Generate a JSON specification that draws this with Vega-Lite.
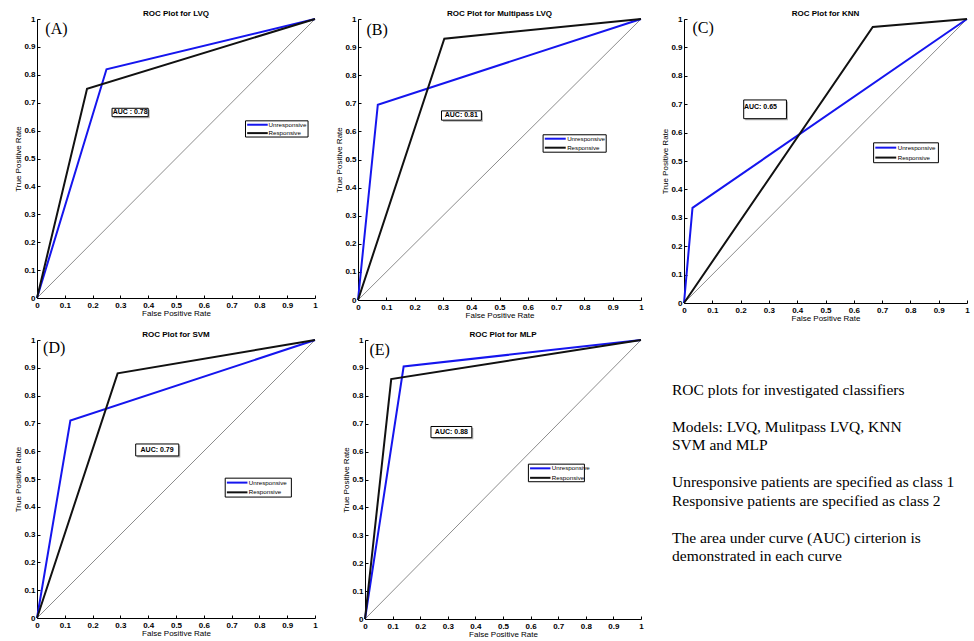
{
  "$schema": "https://vega.github.io/schema/vega-lite/v6.json",
  "background": "white",
  "padding": {"left": 14, "top": 10, "right": 0, "bottom": 0},
  "config": {
    "font": "Liberation Sans",
    "view": {"stroke": null},
    "axis": {"grid": false, "domainColor": "#000", "tickColor": "#000", "tickSize": -3, "labelFontSize": 8, "labelFontWeight": "bold", "labelColor": "#000", "labelFlush": false, "labelOverlap": false, "titleFontSize": 8, "titleFontWeight": "normal", "titleColor": "#000", "titlePadding": 1},
    "axisX": {"labelPadding": 6, "titlePadding": 0},
    "axisY": {"labelPadding": 5},
    "title": {"fontSize": 8, "fontWeight": "bold", "color": "#000", "offset": -3}
  },
  "datasets": {
    "roc": [
      {"model": "LVQ", "class": "Unresponsive", "fpr": 0, "tpr": 0},
      {"model": "LVQ", "class": "Unresponsive", "fpr": 0.25, "tpr": 0.82},
      {"model": "LVQ", "class": "Unresponsive", "fpr": 1, "tpr": 1},
      {"model": "LVQ", "class": "Responsive", "fpr": 0, "tpr": 0},
      {"model": "LVQ", "class": "Responsive", "fpr": 0.18, "tpr": 0.75},
      {"model": "LVQ", "class": "Responsive", "fpr": 1, "tpr": 1},
      {"model": "Multipass LVQ", "class": "Unresponsive", "fpr": 0, "tpr": 0},
      {"model": "Multipass LVQ", "class": "Unresponsive", "fpr": 0.07, "tpr": 0.695},
      {"model": "Multipass LVQ", "class": "Unresponsive", "fpr": 1, "tpr": 1},
      {"model": "Multipass LVQ", "class": "Responsive", "fpr": 0, "tpr": 0},
      {"model": "Multipass LVQ", "class": "Responsive", "fpr": 0.305, "tpr": 0.93},
      {"model": "Multipass LVQ", "class": "Responsive", "fpr": 1, "tpr": 1},
      {"model": "KNN", "class": "Unresponsive", "fpr": 0, "tpr": 0},
      {"model": "KNN", "class": "Unresponsive", "fpr": 0.03, "tpr": 0.335},
      {"model": "KNN", "class": "Unresponsive", "fpr": 1, "tpr": 1},
      {"model": "KNN", "class": "Responsive", "fpr": 0, "tpr": 0},
      {"model": "KNN", "class": "Responsive", "fpr": 0.667, "tpr": 0.972},
      {"model": "KNN", "class": "Responsive", "fpr": 1, "tpr": 1},
      {"model": "SVM", "class": "Unresponsive", "fpr": 0, "tpr": 0},
      {"model": "SVM", "class": "Unresponsive", "fpr": 0.12, "tpr": 0.71},
      {"model": "SVM", "class": "Unresponsive", "fpr": 1, "tpr": 1},
      {"model": "SVM", "class": "Responsive", "fpr": 0, "tpr": 0},
      {"model": "SVM", "class": "Responsive", "fpr": 0.29, "tpr": 0.88},
      {"model": "SVM", "class": "Responsive", "fpr": 1, "tpr": 1},
      {"model": "MLP", "class": "Unresponsive", "fpr": 0, "tpr": 0},
      {"model": "MLP", "class": "Unresponsive", "fpr": 0.14, "tpr": 0.905},
      {"model": "MLP", "class": "Unresponsive", "fpr": 1, "tpr": 1},
      {"model": "MLP", "class": "Responsive", "fpr": 0, "tpr": 0},
      {"model": "MLP", "class": "Responsive", "fpr": 0.095, "tpr": 0.86},
      {"model": "MLP", "class": "Responsive", "fpr": 1, "tpr": 1}
    ],
    "panels": [
      {"model": "LVQ", "letter": "(A)", "auc": "AUC : 0.78", "c1": "Unresponsive", "c2": "Responsive"},
      {"model": "Multipass LVQ", "letter": "(B)", "auc": "AUC: 0.81", "c1": "Unresponsive", "c2": "Responsive"},
      {"model": "KNN", "letter": "(C)", "auc": "AUC: 0.65", "c1": "Unresponsive", "c2": "Responsive"},
      {"model": "SVM", "letter": "(D)", "auc": "AUC: 0.79", "c1": "Unresponsive", "c2": "Responsive"},
      {"model": "MLP", "letter": "(E)", "auc": "AUC: 0.88", "c1": "Unresponsive", "c2": "Responsive"}
    ],
    "notes": [
      {"line": 0, "text": "ROC plots for investigated classifiers"},
      {"line": 2, "text": "Models: LVQ, Mulitpass LVQ, KNN\nSVM and MLP"},
      {"line": 5, "text": "Unresponsive patients are specified as class 1\nResponsive patients are specified as class 2"},
      {"line": 8, "text": "The area under curve (AUC) cirterion is\ndemonstrated in each curve"}
    ]
  },
  "resolve": {"scale": {"color": "independent"}},
  "spacing": 9,
  "vconcat": [
    {
      "bounds": "flush",
      "spacing": 43,
      "resolve": {"scale": {"color": "independent"}},
      "hconcat": [
        {
          "width": 278, "height": 279,
          "title": "ROC Plot for LVQ",
          "layer": [
            {"data": {"name": "panels"}, "transform": [{"filter": "datum.model === 'LVQ'"}],
             "mark": {"type": "rule", "color": "#8c8c8c", "strokeWidth": 1},
             "encoding": {
               "x": {"datum": 0, "type": "quantitative", "scale": {"domain": [0, 1], "nice": false}, "axis": {"title": "False Positive Rate", "values": [0, 0.1, 0.2, 0.3, 0.4, 0.5, 0.6, 0.7, 0.8, 0.9, 1], "tickCount": 11, "format": "~g"}},
               "y": {"datum": 0, "type": "quantitative", "scale": {"domain": [0, 1], "nice": false}, "axis": {"title": "True Positive Rate", "values": [0, 0.1, 0.2, 0.3, 0.4, 0.5, 0.6, 0.7, 0.8, 0.9, 1], "tickCount": 11, "format": "~g"}},
               "x2": {"datum": 1}, "y2": {"datum": 1}}},
            {"data": {"name": "roc"}, "transform": [{"filter": "datum.model === 'LVQ'"}],
             "mark": {"type": "line", "strokeWidth": 2},
             "encoding": {
               "x": {"field": "fpr", "type": "quantitative", "scale": {"domain": [0, 1], "nice": false}, "axis": {"title": "False Positive Rate", "values": [0, 0.1, 0.2, 0.3, 0.4, 0.5, 0.6, 0.7, 0.8, 0.9, 1], "tickCount": 11, "format": "~g"}},
               "y": {"field": "tpr", "type": "quantitative", "scale": {"domain": [0, 1], "nice": false}, "axis": {"title": "True Positive Rate", "values": [0, 0.1, 0.2, 0.3, 0.4, 0.5, 0.6, 0.7, 0.8, 0.9, 1], "tickCount": 11, "format": "~g"}},
               "color": {"field": "class", "type": "nominal", "scale": {"domain": ["Unresponsive", "Responsive"], "range": ["#1515ee", "#111111"]}, "legend": null}
             }},
            {"data": {"name": "panels"}, "transform": [{"filter": "datum.model === 'LVQ'"}],
             "mark": {"type": "rect", "fill": "#b0b0b0", "xOffset": 1.5, "x2Offset": 1.5, "yOffset": 1.5, "y2Offset": 1.5},
             "encoding": {"x": {"datum": 0.27}, "x2": {"datum": 0.40}, "y": {"datum": 0.65}, "y2": {"datum": 0.68}}},
            {"data": {"name": "panels"}, "transform": [{"filter": "datum.model === 'LVQ'"}],
             "mark": {"type": "rect", "fill": "#fff", "stroke": "#000", "strokeWidth": 1},
             "encoding": {"x": {"datum": 0.27}, "x2": {"datum": 0.40}, "y": {"datum": 0.65}, "y2": {"datum": 0.68}}},
            {"data": {"name": "panels"}, "transform": [{"filter": "datum.model === 'LVQ'"}],
             "mark": {"type": "text", "fontSize": 7, "fontWeight": "bold", "color": "#000", "align": "center", "baseline": "middle"},
             "encoding": {"x": {"datum": 0.335}, "y": {"datum": 0.665}, "text": {"field": "auc"}}},
            {"data": {"name": "panels"}, "transform": [{"filter": "datum.model === 'LVQ'"}],
             "mark": {"type": "text", "font": "Liberation Serif", "fontSize": 16, "color": "#000", "align": "left", "baseline": "middle"},
             "encoding": {"x": {"datum": 0.03}, "y": {"datum": 0.965}, "text": {"field": "letter"}}},
            {"data": {"name": "panels"}, "transform": [{"filter": "datum.model === 'LVQ'"}],
             "mark": {"type": "rect", "fill": "#fff", "stroke": "#000", "strokeWidth": 1},
             "encoding": {"x": {"datum": 0.75}, "x2": {"datum": 0.975}, "y": {"datum": 0.577}, "y2": {"datum": 0.635}}},
            {"data": {"name": "panels"}, "transform": [{"filter": "datum.model === 'LVQ'"}],
             "mark": {"type": "rule", "color": "#1515ee", "strokeWidth": 2},
             "encoding": {"x": {"datum": 0.756}, "x2": {"datum": 0.83}, "y": {"datum": 0.621}}},
            {"data": {"name": "panels"}, "transform": [{"filter": "datum.model === 'LVQ'"}],
             "mark": {"type": "rule", "color": "#111111", "strokeWidth": 2},
             "encoding": {"x": {"datum": 0.756}, "x2": {"datum": 0.83}, "y": {"datum": 0.591}}},
            {"data": {"name": "panels"}, "transform": [{"filter": "datum.model === 'LVQ'"}],
             "mark": {"type": "text", "fontSize": 6.2, "color": "#000", "align": "left", "baseline": "middle"},
             "encoding": {"x": {"datum": 0.833}, "y": {"datum": 0.621}, "text": {"field": "c1"}}},
            {"data": {"name": "panels"}, "transform": [{"filter": "datum.model === 'LVQ'"}],
             "mark": {"type": "text", "fontSize": 6.2, "color": "#000", "align": "left", "baseline": "middle"},
             "encoding": {"x": {"datum": 0.833}, "y": {"datum": 0.591}, "text": {"field": "c2"}}}
          ]
        },
        {
          "width": 283, "height": 281,
          "title": "ROC Plot for Multipass LVQ",
          "layer": [
            {"data": {"name": "panels"}, "transform": [{"filter": "datum.model === 'Multipass LVQ'"}],
             "mark": {"type": "rule", "color": "#8c8c8c", "strokeWidth": 1},
             "encoding": {
               "x": {"datum": 0, "type": "quantitative", "scale": {"domain": [0, 1], "nice": false}, "axis": {"title": "False Positive Rate", "values": [0, 0.1, 0.2, 0.3, 0.4, 0.5, 0.6, 0.7, 0.8, 0.9, 1], "tickCount": 11, "format": "~g"}},
               "y": {"datum": 0, "type": "quantitative", "scale": {"domain": [0, 1], "nice": false}, "axis": {"title": "True Positive Rate", "values": [0, 0.1, 0.2, 0.3, 0.4, 0.5, 0.6, 0.7, 0.8, 0.9, 1], "tickCount": 11, "format": "~g"}},
               "x2": {"datum": 1}, "y2": {"datum": 1}}},
            {"data": {"name": "roc"}, "transform": [{"filter": "datum.model === 'Multipass LVQ'"}],
             "mark": {"type": "line", "strokeWidth": 2},
             "encoding": {
               "x": {"field": "fpr", "type": "quantitative", "scale": {"domain": [0, 1], "nice": false}, "axis": {"title": "False Positive Rate", "values": [0, 0.1, 0.2, 0.3, 0.4, 0.5, 0.6, 0.7, 0.8, 0.9, 1], "tickCount": 11, "format": "~g"}},
               "y": {"field": "tpr", "type": "quantitative", "scale": {"domain": [0, 1], "nice": false}, "axis": {"title": "True Positive Rate", "values": [0, 0.1, 0.2, 0.3, 0.4, 0.5, 0.6, 0.7, 0.8, 0.9, 1], "tickCount": 11, "format": "~g"}},
               "color": {"field": "class", "type": "nominal", "scale": {"domain": ["Unresponsive", "Responsive"], "range": ["#1515ee", "#111111"]}, "legend": null}
             }},
            {"data": {"name": "panels"}, "transform": [{"filter": "datum.model === 'Multipass LVQ'"}],
             "mark": {"type": "rect", "fill": "#b0b0b0", "xOffset": 1.5, "x2Offset": 1.5, "yOffset": 1.5, "y2Offset": 1.5},
             "encoding": {"x": {"datum": 0.295}, "x2": {"datum": 0.436}, "y": {"datum": 0.64}, "y2": {"datum": 0.673}}},
            {"data": {"name": "panels"}, "transform": [{"filter": "datum.model === 'Multipass LVQ'"}],
             "mark": {"type": "rect", "fill": "#fff", "stroke": "#000", "strokeWidth": 1},
             "encoding": {"x": {"datum": 0.295}, "x2": {"datum": 0.436}, "y": {"datum": 0.64}, "y2": {"datum": 0.673}}},
            {"data": {"name": "panels"}, "transform": [{"filter": "datum.model === 'Multipass LVQ'"}],
             "mark": {"type": "text", "fontSize": 7, "fontWeight": "bold", "color": "#000", "align": "center", "baseline": "middle"},
             "encoding": {"x": {"datum": 0.365}, "y": {"datum": 0.657}, "text": {"field": "auc"}}},
            {"data": {"name": "panels"}, "transform": [{"filter": "datum.model === 'Multipass LVQ'"}],
             "mark": {"type": "text", "font": "Liberation Serif", "fontSize": 16, "color": "#000", "align": "left", "baseline": "middle"},
             "encoding": {"x": {"datum": 0.03}, "y": {"datum": 0.96}, "text": {"field": "letter"}}},
            {"data": {"name": "panels"}, "transform": [{"filter": "datum.model === 'Multipass LVQ'"}],
             "mark": {"type": "rect", "fill": "#fff", "stroke": "#000", "strokeWidth": 1},
             "encoding": {"x": {"datum": 0.654}, "x2": {"datum": 0.877}, "y": {"datum": 0.526}, "y2": {"datum": 0.588}}},
            {"data": {"name": "panels"}, "transform": [{"filter": "datum.model === 'Multipass LVQ'"}],
             "mark": {"type": "rule", "color": "#1515ee", "strokeWidth": 2},
             "encoding": {"x": {"datum": 0.66}, "x2": {"datum": 0.734}, "y": {"datum": 0.574}}},
            {"data": {"name": "panels"}, "transform": [{"filter": "datum.model === 'Multipass LVQ'"}],
             "mark": {"type": "rule", "color": "#111111", "strokeWidth": 2},
             "encoding": {"x": {"datum": 0.66}, "x2": {"datum": 0.734}, "y": {"datum": 0.542}}},
            {"data": {"name": "panels"}, "transform": [{"filter": "datum.model === 'Multipass LVQ'"}],
             "mark": {"type": "text", "fontSize": 6.2, "color": "#000", "align": "left", "baseline": "middle"},
             "encoding": {"x": {"datum": 0.739}, "y": {"datum": 0.574}, "text": {"field": "c1"}}},
            {"data": {"name": "panels"}, "transform": [{"filter": "datum.model === 'Multipass LVQ'"}],
             "mark": {"type": "text", "fontSize": 6.2, "color": "#000", "align": "left", "baseline": "middle"},
             "encoding": {"x": {"datum": 0.739}, "y": {"datum": 0.542}, "text": {"field": "c2"}}}
          ]
        },
        {
          "width": 283, "height": 284,
          "title": "ROC Plot for KNN",
          "layer": [
            {"data": {"name": "panels"}, "transform": [{"filter": "datum.model === 'KNN'"}],
             "mark": {"type": "rule", "color": "#8c8c8c", "strokeWidth": 1},
             "encoding": {
               "x": {"datum": 0, "type": "quantitative", "scale": {"domain": [0, 1], "nice": false}, "axis": {"title": "False Positive Rate", "values": [0, 0.1, 0.2, 0.3, 0.4, 0.5, 0.6, 0.7, 0.8, 0.9, 1], "tickCount": 11, "format": "~g"}},
               "y": {"datum": 0, "type": "quantitative", "scale": {"domain": [0, 1], "nice": false}, "axis": {"title": "True Positive Rate", "values": [0, 0.1, 0.2, 0.3, 0.4, 0.5, 0.6, 0.7, 0.8, 0.9, 1], "tickCount": 11, "format": "~g"}},
               "x2": {"datum": 1}, "y2": {"datum": 1}}},
            {"data": {"name": "roc"}, "transform": [{"filter": "datum.model === 'KNN'"}],
             "mark": {"type": "line", "strokeWidth": 2},
             "encoding": {
               "x": {"field": "fpr", "type": "quantitative", "scale": {"domain": [0, 1], "nice": false}, "axis": {"title": "False Positive Rate", "values": [0, 0.1, 0.2, 0.3, 0.4, 0.5, 0.6, 0.7, 0.8, 0.9, 1], "tickCount": 11, "format": "~g"}},
               "y": {"field": "tpr", "type": "quantitative", "scale": {"domain": [0, 1], "nice": false}, "axis": {"title": "True Positive Rate", "values": [0, 0.1, 0.2, 0.3, 0.4, 0.5, 0.6, 0.7, 0.8, 0.9, 1], "tickCount": 11, "format": "~g"}},
               "color": {"field": "class", "type": "nominal", "scale": {"domain": ["Unresponsive", "Responsive"], "range": ["#1515ee", "#111111"]}, "legend": null}
             }},
            {"data": {"name": "panels"}, "transform": [{"filter": "datum.model === 'KNN'"}],
             "mark": {"type": "rect", "fill": "#b0b0b0", "xOffset": 1.5, "x2Offset": 1.5, "yOffset": 1.5, "y2Offset": 1.5},
             "encoding": {"x": {"datum": 0.211}, "x2": {"datum": 0.362}, "y": {"datum": 0.649}, "y2": {"datum": 0.715}}},
            {"data": {"name": "panels"}, "transform": [{"filter": "datum.model === 'KNN'"}],
             "mark": {"type": "rect", "fill": "#fff", "stroke": "#000", "strokeWidth": 1},
             "encoding": {"x": {"datum": 0.211}, "x2": {"datum": 0.362}, "y": {"datum": 0.649}, "y2": {"datum": 0.715}}},
            {"data": {"name": "panels"}, "transform": [{"filter": "datum.model === 'KNN'"}],
             "mark": {"type": "text", "fontSize": 7, "fontWeight": "bold", "color": "#000", "align": "center", "baseline": "middle"},
             "encoding": {"x": {"datum": 0.27}, "y": {"datum": 0.69}, "text": {"field": "auc"}}},
            {"data": {"name": "panels"}, "transform": [{"filter": "datum.model === 'KNN'"}],
             "mark": {"type": "text", "font": "Liberation Serif", "fontSize": 16, "color": "#000", "align": "left", "baseline": "middle"},
             "encoding": {"x": {"datum": 0.03}, "y": {"datum": 0.967}, "text": {"field": "letter"}}},
            {"data": {"name": "panels"}, "transform": [{"filter": "datum.model === 'KNN'"}],
             "mark": {"type": "rect", "fill": "#fff", "stroke": "#000", "strokeWidth": 1},
             "encoding": {"x": {"datum": 0.670}, "x2": {"datum": 0.899}, "y": {"datum": 0.494}, "y2": {"datum": 0.564}}},
            {"data": {"name": "panels"}, "transform": [{"filter": "datum.model === 'KNN'"}],
             "mark": {"type": "rule", "color": "#1515ee", "strokeWidth": 2},
             "encoding": {"x": {"datum": 0.676}, "x2": {"datum": 0.75}, "y": {"datum": 0.547}}},
            {"data": {"name": "panels"}, "transform": [{"filter": "datum.model === 'KNN'"}],
             "mark": {"type": "rule", "color": "#111111", "strokeWidth": 2},
             "encoding": {"x": {"datum": 0.676}, "x2": {"datum": 0.75}, "y": {"datum": 0.512}}},
            {"data": {"name": "panels"}, "transform": [{"filter": "datum.model === 'KNN'"}],
             "mark": {"type": "text", "fontSize": 6.2, "color": "#000", "align": "left", "baseline": "middle"},
             "encoding": {"x": {"datum": 0.755}, "y": {"datum": 0.547}, "text": {"field": "c1"}}},
            {"data": {"name": "panels"}, "transform": [{"filter": "datum.model === 'KNN'"}],
             "mark": {"type": "text", "fontSize": 6.2, "color": "#000", "align": "left", "baseline": "middle"},
             "encoding": {"x": {"datum": 0.755}, "y": {"datum": 0.512}, "text": {"field": "c2"}}}
          ]
        }
      ]
    },
    {
      "bounds": "flush",
      "spacing": 50,
      "resolve": {"scale": {"color": "independent"}},
      "hconcat": [
        {
          "width": 278, "height": 278,
          "title": "ROC Plot for SVM",
          "layer": [
            {"data": {"name": "panels"}, "transform": [{"filter": "datum.model === 'SVM'"}],
             "mark": {"type": "rule", "color": "#8c8c8c", "strokeWidth": 1},
             "encoding": {
               "x": {"datum": 0, "type": "quantitative", "scale": {"domain": [0, 1], "nice": false}, "axis": {"title": "False Positive Rate", "values": [0, 0.1, 0.2, 0.3, 0.4, 0.5, 0.6, 0.7, 0.8, 0.9, 1], "tickCount": 11, "format": "~g"}},
               "y": {"datum": 0, "type": "quantitative", "scale": {"domain": [0, 1], "nice": false}, "axis": {"title": "True Positive Rate", "values": [0, 0.1, 0.2, 0.3, 0.4, 0.5, 0.6, 0.7, 0.8, 0.9, 1], "tickCount": 11, "format": "~g"}},
               "x2": {"datum": 1}, "y2": {"datum": 1}}},
            {"data": {"name": "roc"}, "transform": [{"filter": "datum.model === 'SVM'"}],
             "mark": {"type": "line", "strokeWidth": 2},
             "encoding": {
               "x": {"field": "fpr", "type": "quantitative", "scale": {"domain": [0, 1], "nice": false}, "axis": {"title": "False Positive Rate", "values": [0, 0.1, 0.2, 0.3, 0.4, 0.5, 0.6, 0.7, 0.8, 0.9, 1], "tickCount": 11, "format": "~g"}},
               "y": {"field": "tpr", "type": "quantitative", "scale": {"domain": [0, 1], "nice": false}, "axis": {"title": "True Positive Rate", "values": [0, 0.1, 0.2, 0.3, 0.4, 0.5, 0.6, 0.7, 0.8, 0.9, 1], "tickCount": 11, "format": "~g"}},
               "color": {"field": "class", "type": "nominal", "scale": {"domain": ["Unresponsive", "Responsive"], "range": ["#1515ee", "#111111"]}, "legend": null}
             }},
            {"data": {"name": "panels"}, "transform": [{"filter": "datum.model === 'SVM'"}],
             "mark": {"type": "rect", "fill": "#b0b0b0", "xOffset": 1.5, "x2Offset": 1.5, "yOffset": 1.5, "y2Offset": 1.5},
             "encoding": {"x": {"datum": 0.355}, "x2": {"datum": 0.51}, "y": {"datum": 0.583}, "y2": {"datum": 0.626}}},
            {"data": {"name": "panels"}, "transform": [{"filter": "datum.model === 'SVM'"}],
             "mark": {"type": "rect", "fill": "#fff", "stroke": "#000", "strokeWidth": 1},
             "encoding": {"x": {"datum": 0.355}, "x2": {"datum": 0.51}, "y": {"datum": 0.583}, "y2": {"datum": 0.626}}},
            {"data": {"name": "panels"}, "transform": [{"filter": "datum.model === 'SVM'"}],
             "mark": {"type": "text", "fontSize": 7, "fontWeight": "bold", "color": "#000", "align": "center", "baseline": "middle"},
             "encoding": {"x": {"datum": 0.432}, "y": {"datum": 0.605}, "text": {"field": "auc"}}},
            {"data": {"name": "panels"}, "transform": [{"filter": "datum.model === 'SVM'"}],
             "mark": {"type": "text", "font": "Liberation Serif", "fontSize": 16, "color": "#000", "align": "left", "baseline": "middle"},
             "encoding": {"x": {"datum": 0.022}, "y": {"datum": 0.972}, "text": {"field": "letter"}}},
            {"data": {"name": "panels"}, "transform": [{"filter": "datum.model === 'SVM'"}],
             "mark": {"type": "rect", "fill": "#fff", "stroke": "#000", "strokeWidth": 1},
             "encoding": {"x": {"datum": 0.677}, "x2": {"datum": 0.915}, "y": {"datum": 0.435}, "y2": {"datum": 0.503}}},
            {"data": {"name": "panels"}, "transform": [{"filter": "datum.model === 'SVM'"}],
             "mark": {"type": "rule", "color": "#1515ee", "strokeWidth": 2},
             "encoding": {"x": {"datum": 0.683}, "x2": {"datum": 0.757}, "y": {"datum": 0.487}}},
            {"data": {"name": "panels"}, "transform": [{"filter": "datum.model === 'SVM'"}],
             "mark": {"type": "rule", "color": "#111111", "strokeWidth": 2},
             "encoding": {"x": {"datum": 0.683}, "x2": {"datum": 0.757}, "y": {"datum": 0.452}}},
            {"data": {"name": "panels"}, "transform": [{"filter": "datum.model === 'SVM'"}],
             "mark": {"type": "text", "fontSize": 6.2, "color": "#000", "align": "left", "baseline": "middle"},
             "encoding": {"x": {"datum": 0.762}, "y": {"datum": 0.487}, "text": {"field": "c1"}}},
            {"data": {"name": "panels"}, "transform": [{"filter": "datum.model === 'SVM'"}],
             "mark": {"type": "text", "fontSize": 6.2, "color": "#000", "align": "left", "baseline": "middle"},
             "encoding": {"x": {"datum": 0.762}, "y": {"datum": 0.452}, "text": {"field": "c2"}}}
          ]
        },
        {
          "width": 276, "height": 279,
          "title": "ROC Plot for MLP",
          "layer": [
            {"data": {"name": "panels"}, "transform": [{"filter": "datum.model === 'MLP'"}],
             "mark": {"type": "rule", "color": "#8c8c8c", "strokeWidth": 1},
             "encoding": {
               "x": {"datum": 0, "type": "quantitative", "scale": {"domain": [0, 1], "nice": false}, "axis": {"title": "False Positive Rate", "values": [0, 0.1, 0.2, 0.3, 0.4, 0.5, 0.6, 0.7, 0.8, 0.9, 1], "tickCount": 11, "format": "~g"}},
               "y": {"datum": 0, "type": "quantitative", "scale": {"domain": [0, 1], "nice": false}, "axis": {"title": "True Positive Rate", "values": [0, 0.1, 0.2, 0.3, 0.4, 0.5, 0.6, 0.7, 0.8, 0.9, 1], "tickCount": 11, "format": "~g"}},
               "x2": {"datum": 1}, "y2": {"datum": 1}}},
            {"data": {"name": "roc"}, "transform": [{"filter": "datum.model === 'MLP'"}],
             "mark": {"type": "line", "strokeWidth": 2},
             "encoding": {
               "x": {"field": "fpr", "type": "quantitative", "scale": {"domain": [0, 1], "nice": false}, "axis": {"title": "False Positive Rate", "values": [0, 0.1, 0.2, 0.3, 0.4, 0.5, 0.6, 0.7, 0.8, 0.9, 1], "tickCount": 11, "format": "~g"}},
               "y": {"field": "tpr", "type": "quantitative", "scale": {"domain": [0, 1], "nice": false}, "axis": {"title": "True Positive Rate", "values": [0, 0.1, 0.2, 0.3, 0.4, 0.5, 0.6, 0.7, 0.8, 0.9, 1], "tickCount": 11, "format": "~g"}},
               "color": {"field": "class", "type": "nominal", "scale": {"domain": ["Unresponsive", "Responsive"], "range": ["#1515ee", "#111111"]}, "legend": null}
             }},
            {"data": {"name": "panels"}, "transform": [{"filter": "datum.model === 'MLP'"}],
             "mark": {"type": "rect", "fill": "#b0b0b0", "xOffset": 1.5, "x2Offset": 1.5, "yOffset": 1.5, "y2Offset": 1.5},
             "encoding": {"x": {"datum": 0.239}, "x2": {"datum": 0.387}, "y": {"datum": 0.65}, "y2": {"datum": 0.69}}},
            {"data": {"name": "panels"}, "transform": [{"filter": "datum.model === 'MLP'"}],
             "mark": {"type": "rect", "fill": "#fff", "stroke": "#000", "strokeWidth": 1},
             "encoding": {"x": {"datum": 0.239}, "x2": {"datum": 0.387}, "y": {"datum": 0.65}, "y2": {"datum": 0.69}}},
            {"data": {"name": "panels"}, "transform": [{"filter": "datum.model === 'MLP'"}],
             "mark": {"type": "text", "fontSize": 7, "fontWeight": "bold", "color": "#000", "align": "center", "baseline": "middle"},
             "encoding": {"x": {"datum": 0.313}, "y": {"datum": 0.67}, "text": {"field": "auc"}}},
            {"data": {"name": "panels"}, "transform": [{"filter": "datum.model === 'MLP'"}],
             "mark": {"type": "text", "font": "Liberation Serif", "fontSize": 16, "color": "#000", "align": "left", "baseline": "middle"},
             "encoding": {"x": {"datum": 0.016}, "y": {"datum": 0.963}, "text": {"field": "letter"}}},
            {"data": {"name": "panels"}, "transform": [{"filter": "datum.model === 'MLP'"}],
             "mark": {"type": "rect", "fill": "#fff", "stroke": "#000", "strokeWidth": 1},
             "encoding": {"x": {"datum": 0.592}, "x2": {"datum": 0.795}, "y": {"datum": 0.492}, "y2": {"datum": 0.555}}},
            {"data": {"name": "panels"}, "transform": [{"filter": "datum.model === 'MLP'"}],
             "mark": {"type": "rule", "color": "#1515ee", "strokeWidth": 2},
             "encoding": {"x": {"datum": 0.598}, "x2": {"datum": 0.672}, "y": {"datum": 0.540}}},
            {"data": {"name": "panels"}, "transform": [{"filter": "datum.model === 'MLP'"}],
             "mark": {"type": "rule", "color": "#111111", "strokeWidth": 2},
             "encoding": {"x": {"datum": 0.598}, "x2": {"datum": 0.672}, "y": {"datum": 0.506}}},
            {"data": {"name": "panels"}, "transform": [{"filter": "datum.model === 'MLP'"}],
             "mark": {"type": "text", "fontSize": 6.2, "color": "#000", "align": "left", "baseline": "middle"},
             "encoding": {"x": {"datum": 0.677}, "y": {"datum": 0.540}, "text": {"field": "c1"}}},
            {"data": {"name": "panels"}, "transform": [{"filter": "datum.model === 'MLP'"}],
             "mark": {"type": "text", "fontSize": 6.2, "color": "#000", "align": "left", "baseline": "middle"},
             "encoding": {"x": {"datum": 0.677}, "y": {"datum": 0.506}, "text": {"field": "c2"}}}
          ]
        },
        {
          "width": 280, "height": 278,
          "data": {"name": "notes"},
          "mark": {"type": "text", "font": "Liberation Serif", "fontSize": 15.5, "color": "#000", "align": "left", "baseline": "top", "lineBreak": "\n", "lineHeight": 18.5, "dx": -19},
          "encoding": {
            "x": {"datum": 0, "type": "quantitative", "scale": {"domain": [0, 1]}, "axis": null},
            "y": {"field": "line", "type": "quantitative", "scale": {"domain": [12.71, -2.32]}, "axis": null},
            "text": {"field": "text"}
          }
        }
      ]
    }
  ]
}
